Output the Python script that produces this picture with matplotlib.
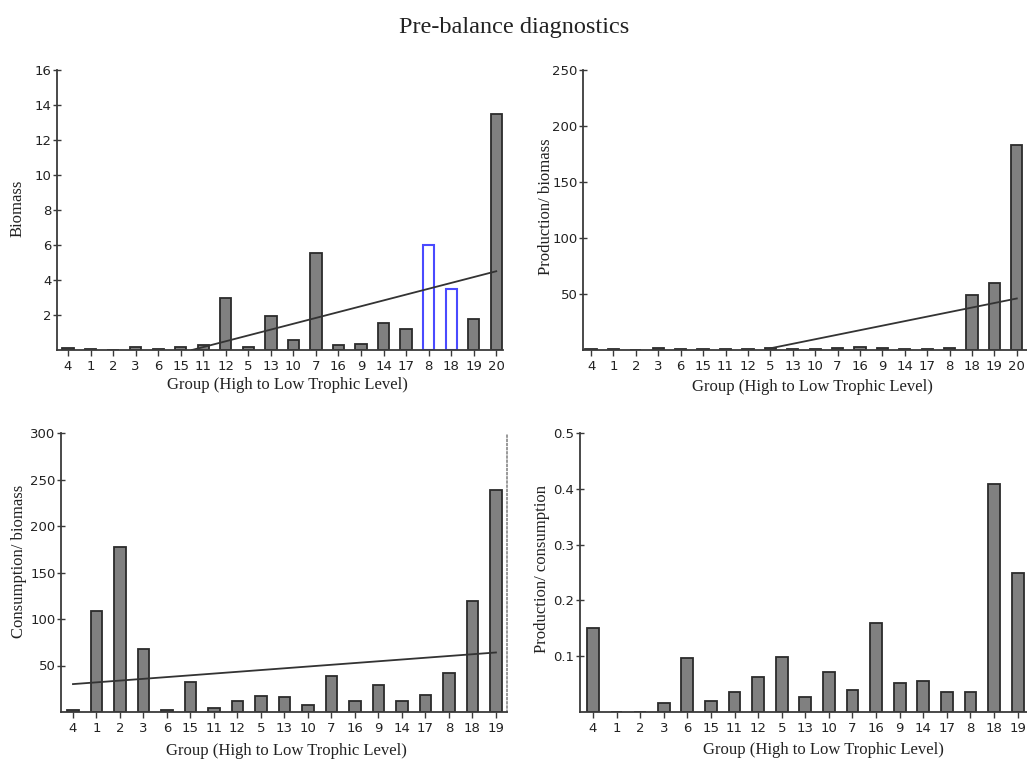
import matplotlib
matplotlib.use("Agg")
import matplotlib.pyplot as plt

# ---------------- data ----------------
groups_tl = ["4", "1", "2", "3", "6", "15", "11", "12", "5", "13", "10", "7", "16", "9", "14", "17", "8", "18", "19", "20"]
biomass = [0.1, 0.05, 0.0, 0.15, 0.05, 0.15, 0.3, 2.95, 0.15, 1.95, 0.55, 5.55, 0.3, 0.35, 1.55, 1.2, 6.0, 3.5, 1.75, 13.5]
biomass_flag = [False] * 16 + [True, True, False, False]
biomass_trend_x = [5.5, 19]
biomass_trend_y = [0.0, 4.5]

groups_tr = ["4", "1", "2", "3", "6", "15", "11", "12", "5", "13", "10", "7", "16", "9", "14", "17", "8", "18", "19", "20"]
prod_biomass = [0.5, 0.5, 0.0, 1.5, 0.5, 0.5, 0.5, 0.5, 1.5, 0.5, 0.5, 1.5, 3.0, 1.5, 0.5, 0.5, 1.5, 49, 60, 183]
pb_trend_x = [8, 19]
pb_trend_y = [1.5, 46]

groups_bl = ["4", "1", "2", "3", "6", "15", "11", "12", "5", "13", "10", "7", "16", "9", "14", "17", "8", "18", "19"]
cons_biomass = [2.5, 109, 177.5, 67.5, 2.5, 32, 4.7, 12, 17, 16, 7, 39, 12, 29.5, 12, 18, 41.7, 119.6, 239]
qb_trend_x = [0, 18]
qb_trend_y = [30, 64]

groups_br = ["4", "1", "2", "3", "6", "15", "11", "12", "5", "13", "10", "7", "16", "9", "14", "17", "8", "18", "19"]
prod_cons = [0.151, 0.0, 0.0, 0.016, 0.096, 0.020, 0.0365, 0.063, 0.098, 0.026, 0.072, 0.039, 0.160, 0.0515, 0.055, 0.0365, 0.035, 0.409, 0.2485]

title = "Pre-balance diagnostics"
xlabel = "Group (High to Low Trophic Level)"

# ---------------- style ----------------
W, H = 1027, 760
fig = plt.figure(figsize=(W / 100, H / 100), dpi=100)
SERIF = ["Liberation Serif", "DejaVu Serif"]
SANS = ["DejaVu Sans"]
BAR = "#808080"
EDGE = "#2b2b2b"
AX = "#3a3a3a"


def make_ax(left, right, top, bottom):
    return fig.add_axes([left / W, 1 - bottom / H, (right - left) / W, (bottom - top) / H])


def style(ax, cats, xlim, ylim, yticks, yfmt, dotted_right=False):
    ax.set_xlim(*xlim)
    ax.set_ylim(*ylim)
    ax.set_xticks(range(len(cats)))
    ax.set_xticklabels(cats, family=SANS, fontsize=9.5, color="#222222")
    ax.set_yticks(yticks)
    ax.set_yticklabels([yfmt(v) for v in yticks], family=SANS, fontsize=9.5, color="#222222")
    for s in ("top", "right"):
        ax.spines[s].set_visible(False)
    for s in ("left", "bottom"):
        ax.spines[s].set_color(AX)
        ax.spines[s].set_linewidth(1.3)
    ax.tick_params(axis="x", direction="out", length=4, width=1, color=AX, pad=3)
    ax.tick_params(axis="y", direction="inout", length=6, width=1, color=AX, pad=1)
    ax.set_facecolor("none")
    if dotted_right:
        ax.spines["right"].set_visible(True)
        ax.spines["right"].set_color("#888888")
        ax.spines["right"].set_linestyle((0, (1, 1.5)))
        ax.spines["right"].set_linewidth(1.2)


def bars(ax, vals, flags=None):
    for i, v in enumerate(vals):
        if flags is not None and flags[i]:
            ax.bar(i, v, width=0.5, facecolor="white", edgecolor="#4a4aff", linewidth=1.5, zorder=2)
        else:
            ax.bar(i, v, width=0.5, facecolor=BAR, edgecolor=EDGE, linewidth=1.3, zorder=2)


# Panel 1: Biomass
ax1 = make_ax(57, 503, 70, 350)
bars(ax1, biomass, biomass_flag)
ax1.plot(biomass_trend_x, biomass_trend_y, color="#333333", lw=1.3, zorder=3)
style(ax1, groups_tl, (-0.49, 19.3), (0, 16), [2, 4, 6, 8, 10, 12, 14, 16], lambda v: f"{v:g}")

# Panel 2: Production/biomass
ax2 = make_ax(583, 1028, 70, 350)
bars(ax2, prod_biomass)
ax2.plot(pb_trend_x, pb_trend_y, color="#333333", lw=1.3, zorder=3)
style(ax2, groups_tr, (-0.36, 19.5), (0, 250), [50, 100, 150, 200, 250], lambda v: f"{v:g}")

# Panel 3: Consumption/biomass
ax3 = make_ax(61, 507, 433, 712)
bars(ax3, cons_biomass)
ax3.plot(qb_trend_x, qb_trend_y, color="#333333", lw=1.3, zorder=3)
style(ax3, groups_bl, (-0.51, 18.47), (0, 300), [50, 100, 150, 200, 250, 300], lambda v: f"{v:g}",
      dotted_right=True)

# Panel 4: Production/consumption
ax4 = make_ax(580, 1053, 433, 712)
bars(ax4, prod_cons)
style(ax4, groups_br, (-0.55, 19.5), (0, 0.5), [0.1, 0.2, 0.3, 0.4, 0.5], lambda v: f"{v:g}")


def ftext(x, y, s, **kw):
    fig.text(x / W, 1 - y / H, s, ha="center", va="center", family=SERIF, color="#222222", **kw)


ftext(514, 27, title, fontsize=17.5)
ftext(287, 385, xlabel, fontsize=12)
ftext(812, 387, xlabel, fontsize=12)
ftext(286, 751, xlabel, fontsize=12)
ftext(823, 750, xlabel, fontsize=12)
ftext(18, 208, "Biomass", fontsize=12, rotation=90)
ftext(546, 207, "Production/ biomass", fontsize=12, rotation=90)
ftext(19, 561, "Consumption/ biomass", fontsize=12, rotation=90)
ftext(542, 569, "Production/ consumption", fontsize=12, rotation=90)

fig.savefig("out.png", dpi=100)
